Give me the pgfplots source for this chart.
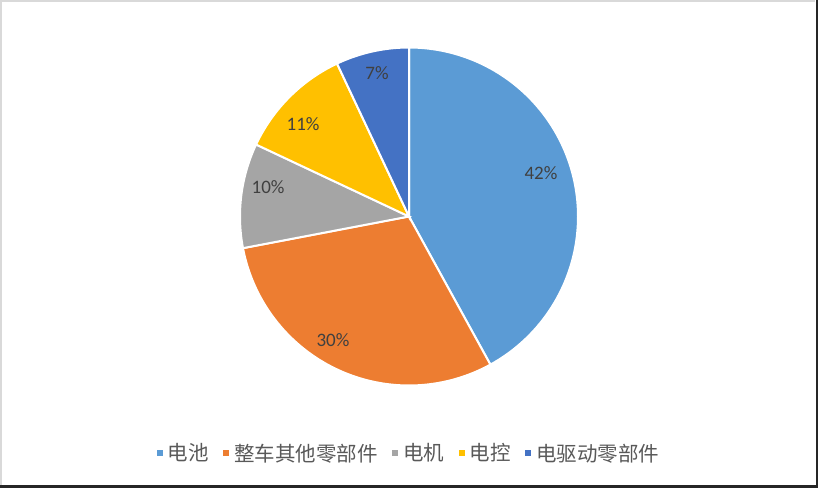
\documentclass[border=0pt]{standalone}
\usepackage{fontspec}
\setmainfont{Carlito}
\newfontfamily\cjk{Noto Sans CJK SC}
\usepackage{pgfplots}
\pgfplotsset{compat=1.18}

\definecolor{c1}{HTML}{5B9BD5}
\definecolor{c2}{HTML}{ED7D31}
\definecolor{c3}{HTML}{A5A5A5}
\definecolor{c4}{HTML}{FFC000}
\definecolor{c5}{HTML}{4472C4}
\definecolor{lbl}{HTML}{404040}
\definecolor{leg}{HTML}{595959}

% shares in percent, clockwise from 12 o'clock
\def\pA{42}\def\pB{30}\def\pC{10}\def\pD{11}\def\pE{7}
\pgfmathsetmacro\aA{90}
\pgfmathsetmacro\aB{\aA-3.6*\pA}
\pgfmathsetmacro\aC{\aB-3.6*\pB}
\pgfmathsetmacro\aD{\aC-3.6*\pC}
\pgfmathsetmacro\aE{\aD-3.6*\pD}
\pgfmathsetmacro\aF{\aE-3.6*\pE}

\begin{document}
\begin{tikzpicture}
\useasboundingbox (0,0) rectangle (818bp,488bp);
\fill[white] (0,0) rectangle (818bp,488bp);
\draw[line width=1.5bp, black!15] (1bp,2bp) -- (1bp,487bp) -- (815bp,487bp);
\draw[line width=2.5bp, black!85] (0bp,1.25bp) -- (816.75bp,1.25bp) -- (816.75bp,488bp);
\begin{axis}[
  at={(409bp,271.5bp)}, anchor=center,
  scale only axis, width=338bp, height=338bp,
  xmin=-1, xmax=1, ymin=-1, ymax=1,
  hide axis, clip=false,
  legend columns=-1,
  legend image code/.code={\fill[#1] (0bp,-4bp) rectangle (8bp,4bp);},
  legend style={at={(0.499,-0.2)}, anchor=center, draw=none, fill=none,
    font=\cjk\fontsize{20.5bp}{22bp}\selectfont, text=leg,
    /tikz/every even column/.append style={column sep=9.5bp},
    nodes={inner xsep=3bp}},
]
\addplot[fill=c1, draw=white, line width=2bp, domain=\aB:\aA, samples=90] ({cos(x)},{sin(x)}) -- (axis cs:0,0) -- cycle;
\addplot[fill=c2, draw=white, line width=2bp, domain=\aC:\aB, samples=70] ({cos(x)},{sin(x)}) -- (axis cs:0,0) -- cycle;
\addplot[fill=c3, draw=white, line width=2bp, domain=\aD:\aC, samples=30] ({cos(x)},{sin(x)}) -- (axis cs:0,0) -- cycle;
\addplot[fill=c4, draw=white, line width=2bp, domain=\aE:\aD, samples=30] ({cos(x)},{sin(x)}) -- (axis cs:0,0) -- cycle;
\addplot[fill=c5, draw=white, line width=2bp, domain=\aF:\aE, samples=30] ({cos(x)},{sin(x)}) -- (axis cs:0,0) -- cycle;
\legend{电池,整车其他零部件,电机,电控,电驱动零部件}
\begin{scope}[every node/.style={text=lbl, font=\fontsize{19bp}{21bp}\selectfont}]
\node at (axis cs:0.781,0.257) {\pA\%};
\node at (axis cs:-0.450,-0.734) {\pB\%};
\node at (axis cs:-0.834,0.175) {\pC\%};
\node at (axis cs:-0.627,0.547) {\pD\%};
\node at (axis cs:-0.189,0.849) {\pE\%};
\end{scope}
\end{axis}
\end{tikzpicture}
\end{document}
